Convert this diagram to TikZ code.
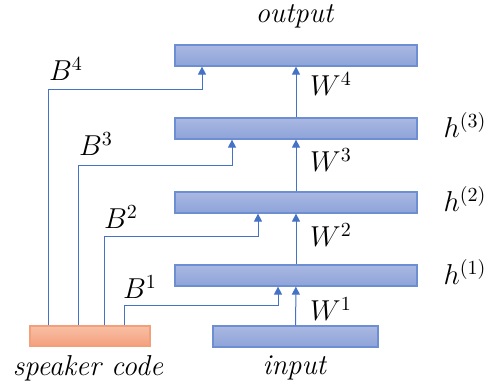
\documentclass[tikz,border=0pt]{standalone}
\usetikzlibrary{arrows.meta}
\definecolor{linkblue}{HTML}{4472C4}
\definecolor{layertop}{HTML}{AAB8E2}
\definecolor{layerbot}{HTML}{8DA3D9}
\definecolor{layerrim}{HTML}{6E8ED2}
\definecolor{spktop}{HTML}{F8BFA4}
\definecolor{spkbot}{HTML}{F4A07E}
\definecolor{spkrim}{HTML}{F2A07A}
\tikzset{
  layer/.style={draw=layerrim, line width=0.6pt, top color=layertop, bottom color=layerbot,
    minimum width=121pt, minimum height=10.5pt, inner sep=0pt},
  spkbox/.style={draw=spkrim, line width=0.6pt, top color=spktop, bottom color=spkbot,
    minimum width=60pt, minimum height=10pt, inner sep=0pt},
  link/.style={draw=linkblue, line width=0.5pt, -{Triangle[width=4pt,length=4pt]}},
  lbl/.style={font=\Large, inner sep=0pt}
}
\begin{document}
\begin{tikzpicture}[x=0.5pt, y=-0.5pt]
\useasboundingbox (0,0) rectangle (486,387);
% layers
\node[layer] (out) at (296,55.5) {};
\node[layer] (h3) at (296,128.5) {};
\node[layer] (h2) at (296,202.5) {};
\node[layer] (h1) at (296,275.5) {};
\node[layer, minimum width=82.5pt] (in) at (295.5,336.5) {};
\node[spkbox] (spk) at (90,336) {};
% texts
\node[lbl, anchor=base] (outtxt) at (295,22) {\textit{output}};
\node[lbl] (intxt) at (295,368) {\textit{input}};
\node[lbl] (spktxt) at (88,368) {\textit{speaker code}};
\foreach \k/\y in {1/272, 2/199, 3/125}
  \node[lbl] (hl\k) at (465,\y) {$h^{(\k)}$};
\foreach \k/\y in {1/309, 2/235, 3/160, 4/84}
  \node[lbl] (wl\k) at (331,\y) {$W^{\k}$};
\foreach \k/\x/\y in {1/140/287, 2/121/217, 3/96/144, 4/66/69}
  \node[lbl] (bl\k) at (\x,\y) {$B^{\k}$};
% weights
\draw[link] (in) -- (h1);
\draw[link] (h1) -- (h2);
\draw[link] (h2) -- (h3);
\draw[link] (h3) -- (out);
% speaker code biases
\foreach \k/\sx/\tx/\ty/\lay in {1/124/278/305/h1, 2/104/258/236/h2, 3/78/232/165/h3, 4/48/202/89/out}{
  \coordinate (s\k) at (\sx,0);
  \coordinate (t\k) at (\tx,\ty);
  \draw[link] (spk.north -| s\k) |- (t\k) -- (t\k |- \lay.south);
}
\end{tikzpicture}
\end{document}
